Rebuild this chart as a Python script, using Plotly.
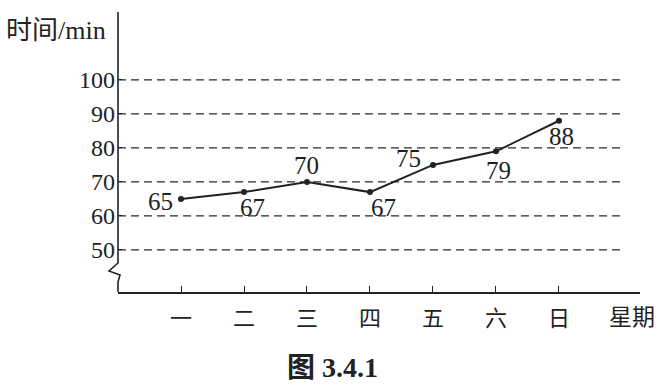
import plotly.graph_objects as go

days = ["一", "二", "三", "四", "五", "六", "日"]
minutes = [65, 67, 70, 67, 75, 79, 88]
y_ticks = [50, 60, 70, 80, 90, 100]
label_shift_x = [-21, 8, 0, 14, -24, 3, 3]
label_shift_y = [-3, -15, 16, -15, 6, -19, -16]

W, H = 663, 385
ML, MR, MT, MB = 118, 23, 12, 93
PW, PH = W - ML - MR, H - MT - MB
Y0, Y1 = 37.6, 120.0

def px(x):
    return (x - ML) / PW

def py(y):
    return (H - MB - y) / PH

serif = "Liberation Serif, Noto Sans CJK SC"
cjk = "Noto Sans CJK SC"
ink = "#222222"

x_idx = list(range(len(days)))
fig = go.Figure()
fig.add_trace(go.Scatter(
    x=x_idx, y=minutes, mode="lines+markers",
    line=dict(color=ink, width=2),
    marker=dict(color=ink, size=6),
    showlegend=False, hoverinfo="skip", cliponaxis=False,
))

shapes = []
for t in y_ticks:
    shapes.append(dict(type="line", xref="x", yref="y", x0=-1, x1=7.0, y0=t, y1=t,
                       line=dict(color="#2a2a2a", width=1.2, dash="8px,5px"), layer="below"))

# y axis with break symbol (pixel geometry)
path = (f"M {px(118)},{py(12)} L {px(118)},{py(263)} L {px(109)},{py(271)} "
        f"L {px(120)},{py(275)} L {px(118)},{py(282)} L {px(118)},{py(292)}")
shapes.append(dict(type="path", xref="paper", yref="paper", path=path,
                   line=dict(color=ink, width=1.6)))

annotations = []
for i, v in enumerate(minutes):
    annotations.append(dict(x=i, y=v, xref="x", yref="y", text=str(v), showarrow=False,
                            xshift=label_shift_x[i], yshift=label_shift_y[i],
                            font=dict(family=serif, size=25, color=ink)))
annotations.append(dict(x=px(4), y=py(27), xref="paper", yref="paper",
                        text="时间<span style='font-family:Liberation Serif'>/min</span>",
                        showarrow=False, xanchor="left", yanchor="middle",
                        font=dict(family="Noto Sans CJK SC", size=26, color=ink)))
annotations.append(dict(x=px(632), y=py(315), xref="paper", yref="paper", text="星期",
                        showarrow=False, xanchor="center", yanchor="middle",
                        font=dict(family=cjk, size=23, color=ink)))
annotations.append(dict(x=px(332), y=py(367), xref="paper", yref="paper", text="<b>图 3.4.1</b>",
                        showarrow=False, xanchor="center", yanchor="middle",
                        font=dict(family=serif, size=28, color=ink)))

fig.update_layout(
    width=W, height=H,
    margin=dict(l=ML, r=MR, t=MT, b=MB, pad=0),
    paper_bgcolor="white", plot_bgcolor="white",
    shapes=shapes, annotations=annotations,
    xaxis=dict(range=[-1, 7.286], tickvals=x_idx, ticktext=days,
               showgrid=False, zeroline=False, showline=True, linecolor=ink, linewidth=1.6,
               ticks="inside", ticklen=6, tickcolor=ink, tickwidth=1.2,
               tickfont=dict(family=cjk, size=22, color=ink), ticklabelstandoff=6),
    yaxis=dict(range=[Y0, Y1], tickvals=y_ticks, ticktext=[str(t) for t in y_ticks],
               showgrid=False, zeroline=False, showline=False,
               ticks="inside", ticklen=4, tickcolor=ink, tickwidth=1.2,
               tickfont=dict(family=serif, size=24, color=ink), ticklabelstandoff=2),
)

fig.write_html("out.html")
